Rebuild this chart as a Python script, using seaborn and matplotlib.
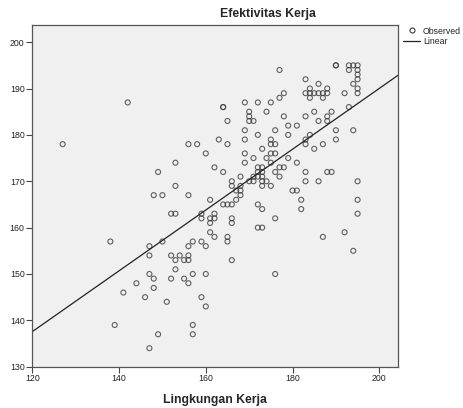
import seaborn as sns
import matplotlib.pyplot as plt
from matplotlib.lines import Line2D
import numpy as np
import pandas as pd

# Lingkungan Kerja (x) and Efektivitas Kerja (y)
lingkungan = [
    127, 142, 138, 139, 141, 144, 146, 147, 147, 147, 147, 148, 148, 148, 149, 149,
    150, 150, 151, 152, 152, 152, 153, 153, 153, 153, 153, 154, 155, 155, 156, 156,
    156, 156, 156, 156, 157, 157, 157, 157, 158, 159, 159, 159, 159, 160, 160, 160,
    160, 161, 161, 161, 161, 162, 162, 162, 162, 163, 164, 164, 164, 164, 165, 165,
    165, 165, 165, 166, 166, 166, 166, 166, 166, 167, 167, 168, 168, 168, 168,
    169, 169, 169, 169, 169, 170, 170, 170, 170, 171, 171, 171, 171, 172, 172, 172,
    172, 172, 172, 172, 173, 173, 173, 173, 173, 173, 173, 173, 174, 174, 174, 175,
    175, 175, 175, 175, 175, 176, 176, 176, 176, 176, 176, 177, 177, 177, 177, 178,
    178, 178, 179, 179, 179, 180, 181, 181, 181, 182, 182,
    183, 183, 183, 183, 183, 183, 183, 184, 184, 184, 184, 185, 185, 185, 186, 186,
    186, 186, 187, 187, 187, 187, 188, 188, 188, 188, 188, 189, 189, 190, 190, 190,
    190, 192, 192, 193, 193, 193, 194, 194, 194, 194, 195, 195, 195, 195, 195, 195,
    195, 195, 195,
]
efektivitas = [
    178, 187, 157, 139, 146, 148, 145, 156, 154, 150, 134, 149, 147, 167, 172, 137,
    167, 157, 144, 154, 149, 163, 163, 174, 169, 153, 151, 154, 153, 149, 178, 167,
    156, 154, 153, 148, 157, 150, 139, 137, 178, 163, 162, 157, 145, 176, 156, 150,
    143, 166, 162, 161, 159, 173, 163, 162, 158, 179, 186, 186, 172, 165, 183, 178,
    165, 158, 157, 170, 169, 165, 162, 161, 153, 168, 166, 171, 169, 168, 167,
    187, 181, 179, 176, 174, 185, 184, 183, 170, 183, 175, 171, 170, 187, 180, 173,
    172, 171, 165, 160, 177, 173, 172, 171, 170, 169, 164, 160, 185, 175, 170, 187,
    179, 178, 176, 174, 169, 181, 178, 176, 172, 162, 150, 194, 188, 173, 171, 189,
    184, 173, 182, 180, 175, 168, 182, 174, 168, 166, 164,
    192, 189, 184, 179, 178, 172, 170, 190, 189, 188, 180, 189, 185, 177, 191, 189,
    183, 170, 189, 188, 178, 158, 190, 189, 184, 183, 172, 185, 172, 195, 195, 181,
    179, 189, 159, 195, 194, 186, 195, 191, 181, 155, 195, 194, 193, 192, 190, 189,
    170, 166, 163,
]

x_ticks = [120, 140, 160, 180, 200]
y_ticks = [130, 140, 150, 160, 170, 180, 190, 200]

df = pd.DataFrame({"Lingkungan Kerja": lingkungan, "Efektivitas Kerja": efektivitas})

sns.set_style("white")
plt.rcParams["font.family"] = ["Liberation Sans", "DejaVu Sans"]

fig = plt.figure(figsize=(4.64, 4.08), dpi=100)
ax = fig.add_axes([0.0696, 0.1012, 0.788, 0.8375])
ax.set_facecolor("#f0f0f0")
ax.set_xlim(120, 204.3)
ax.set_ylim(130, 203.7)

pt_color = "#3a3a3a"
line_color = "#222222"
sns.regplot(ax=ax, data=df, x="Lingkungan Kerja", y="Efektivitas Kerja",
            ci=None, truncate=False,
            scatter_kws={"s": 13, "facecolors": "none", "edgecolors": pt_color,
                         "linewidths": 0.8},
            line_kws={"color": line_color, "lw": 0.9})

ax.set_xticks(x_ticks)
ax.set_yticks(y_ticks)
ax.tick_params(axis="both", direction="out", length=4, width=0.8, color="#444444",
               labelsize=6.3, labelcolor="#222222", pad=1.5, bottom=True, left=True)
for sp in ax.spines.values():
    sp.set_color("#555555")
    sp.set_linewidth(0.9)

ax.set_xlabel("Lingkungan Kerja", fontsize=8.8, fontweight="bold", labelpad=8)
ax.set_ylabel("")
fig.text(0.578, 0.966, "Efektivitas Kerja", fontsize=8.8, fontweight="bold",
         ha="center", va="center")

handles = [
    Line2D([], [], ls="none", marker="o", ms=3.6, mfc="none", mec=pt_color, mew=0.8),
    Line2D([], [], color=line_color, lw=0.9),
]
ax.legend(handles, ["Observed", "Linear"], loc="upper left",
          bbox_to_anchor=(0.868, 0.935), bbox_transform=fig.transFigure,
          frameon=False, fontsize=6.3, handlelength=2.0, handletextpad=0.3,
          borderaxespad=0, borderpad=0, labelspacing=0.2)

fig.savefig("out.png", dpi=100)
